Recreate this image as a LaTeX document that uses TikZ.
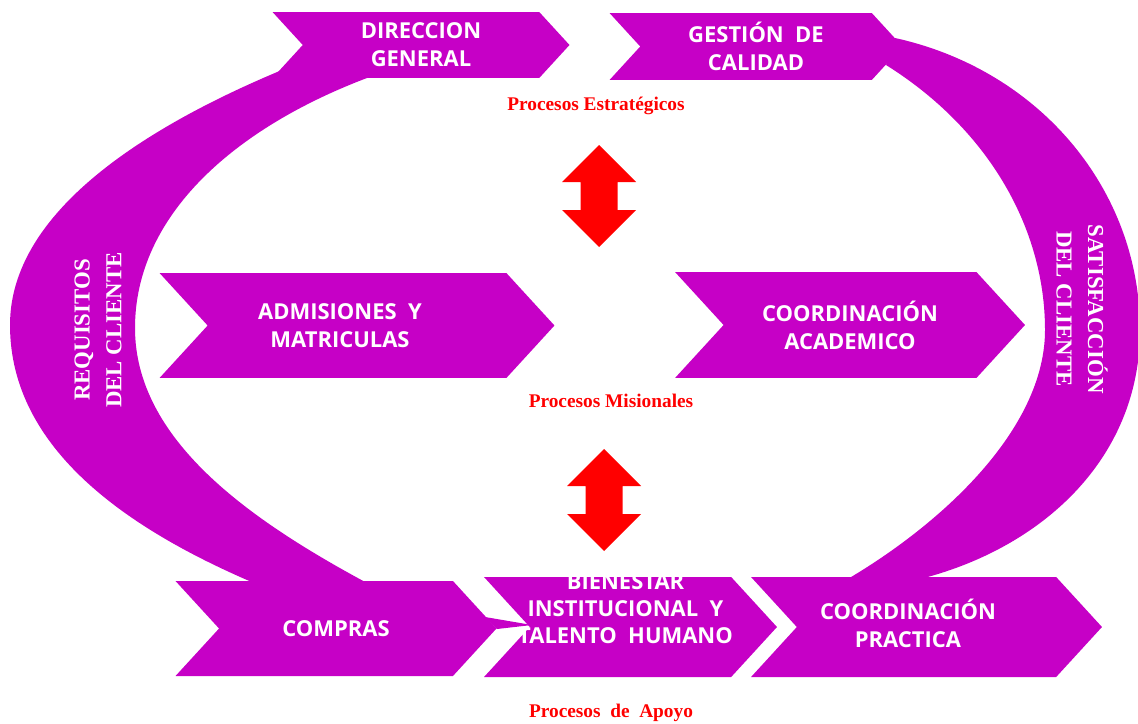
\documentclass[tikz,border=0pt]{standalone}
\usepackage{fontspec}
\setmainfont{Liberation Serif}
\newfontfamily\boxfont{Open Sans}
\usepackage{tikz}
\usetikzlibrary{shapes.symbols,positioning}

\definecolor{procmag}{RGB}{198,0,198}
\definecolor{procred}{RGB}{255,0,0}

\begin{document}
\begin{tikzpicture}[
    x=0.02cm, y=-0.02cm,
    chevtxt/.style={text=white, align=center, font=\boxfont\bfseries\fontsize{12.5}{16}\selectfont},
    chev/.style={shape=signal, signal from=west, signal to=east, signal pointer angle=95,
        fill=procmag, inner sep=0pt, chevtxt},
    band/.style={fill=procmag},
    side/.style={text=white, align=center, font=\bfseries\fontsize{13}{18}\selectfont},
    proc/.style={text=procred, font=\bfseries\fontsize{11}{13}\selectfont},
    dblarr/.style={fill=procred}
]
    \useasboundingbox (0,0) rectangle (1138,723);

    % Bands round the map
    \fill[band] (282,70) .. controls (150,125) and (10,210) .. (10,325)
        .. controls (10,450) and (130,530) .. (254,583) -- (367,583)
        .. controls (250,520) and (135,440) .. (135,328)
        .. controls (135,215) and (235,128) .. (367,78) -- cycle;
    \fill[band] (895,38) .. controls (1040,70) and (1140,190) .. (1140,330)
        .. controls (1140,460) and (1040,550) .. (916,580) -- (846,580)
        .. controls (940,525) and (1045,430) .. (1045,330)
        .. controls (1045,230) and (990,130) .. (886,65) -- cycle;

    \node[side, rotate=90]  (req) at (98,330)  {REQUISITOS\\DEL CLIENTE};
    \node[side, rotate=-90] (sat) at (1082,309) {SATISFACCIÓN\\DEL CLIENTE};

    % Procesos estrategicos
    \node[chev, minimum width=5.94cm, minimum height=1.32cm] (dir) at (421,45) {DIRECCION\\GENERAL};
    \node[chev, minimum width=5.86cm, minimum height=1.34cm] (ges) at (756,46.5) {GESTIÓN\ \ DE\\CALIDAD};
    \node[proc] (strat) at (596,106) {Procesos Estratégicos};

    % Procesos misionales
    \node[chev, minimum width=7.9cm, minimum height=2.1cm,
        label={[chevtxt, xshift=-0.34cm]center:{ADMISIONES\ \ Y\\MATRICULAS}}] (adm) at (357,325.5) {};
    \node[chev, minimum width=7cm, minimum height=2.12cm] (aca) at (850,325) {COORDINACIÓN\\ACADEMICO};
    \node[proc] (mis) at (611,401) {Procesos Misionales};

    % Procesos de apoyo
    \node[chev, minimum width=6.42cm, minimum height=1.9cm] (com) at (336,628.5) {COMPRAS};
    \node[chev, minimum width=5.86cm, minimum height=2cm,
        label={[chevtxt, xshift=-0.1cm, yshift=0.36cm, font=\boxfont\bfseries\fontsize{12.5}{15.4}\selectfont]center:{BIENESTAR\\INSTITUCIONAL\ \ Y\\TALENTO\ \ HUMANO}}] (bie) at (630.5,627) {};
    \fill[band] (485,617) -- (532,625) -- (497,629) -- cycle;
    \node[chev, minimum width=7.02cm, minimum height=2cm,
        label={[chevtxt, xshift=-0.37cm, yshift=0.08cm]center:{COORDINACIÓN\\PRACTICA}}] (pra) at (926.5,627) {};
    \node[proc] (apo) at (611,713) {Procesos\ \ de\ \ Apoyo};

    % Double arrows between levels
    \foreach \cx/\ty in {599/145, 604/449}
        \fill[dblarr, shift={(\cx,\ty)}] (0,0) -- (37,37) -- (18.5,37) -- (18.5,65) -- (37,65)
            -- (0,102) -- (-37,65) -- (-18.5,65) -- (-18.5,37) -- (-37,37) -- cycle;

\end{tikzpicture}
\end{document}
